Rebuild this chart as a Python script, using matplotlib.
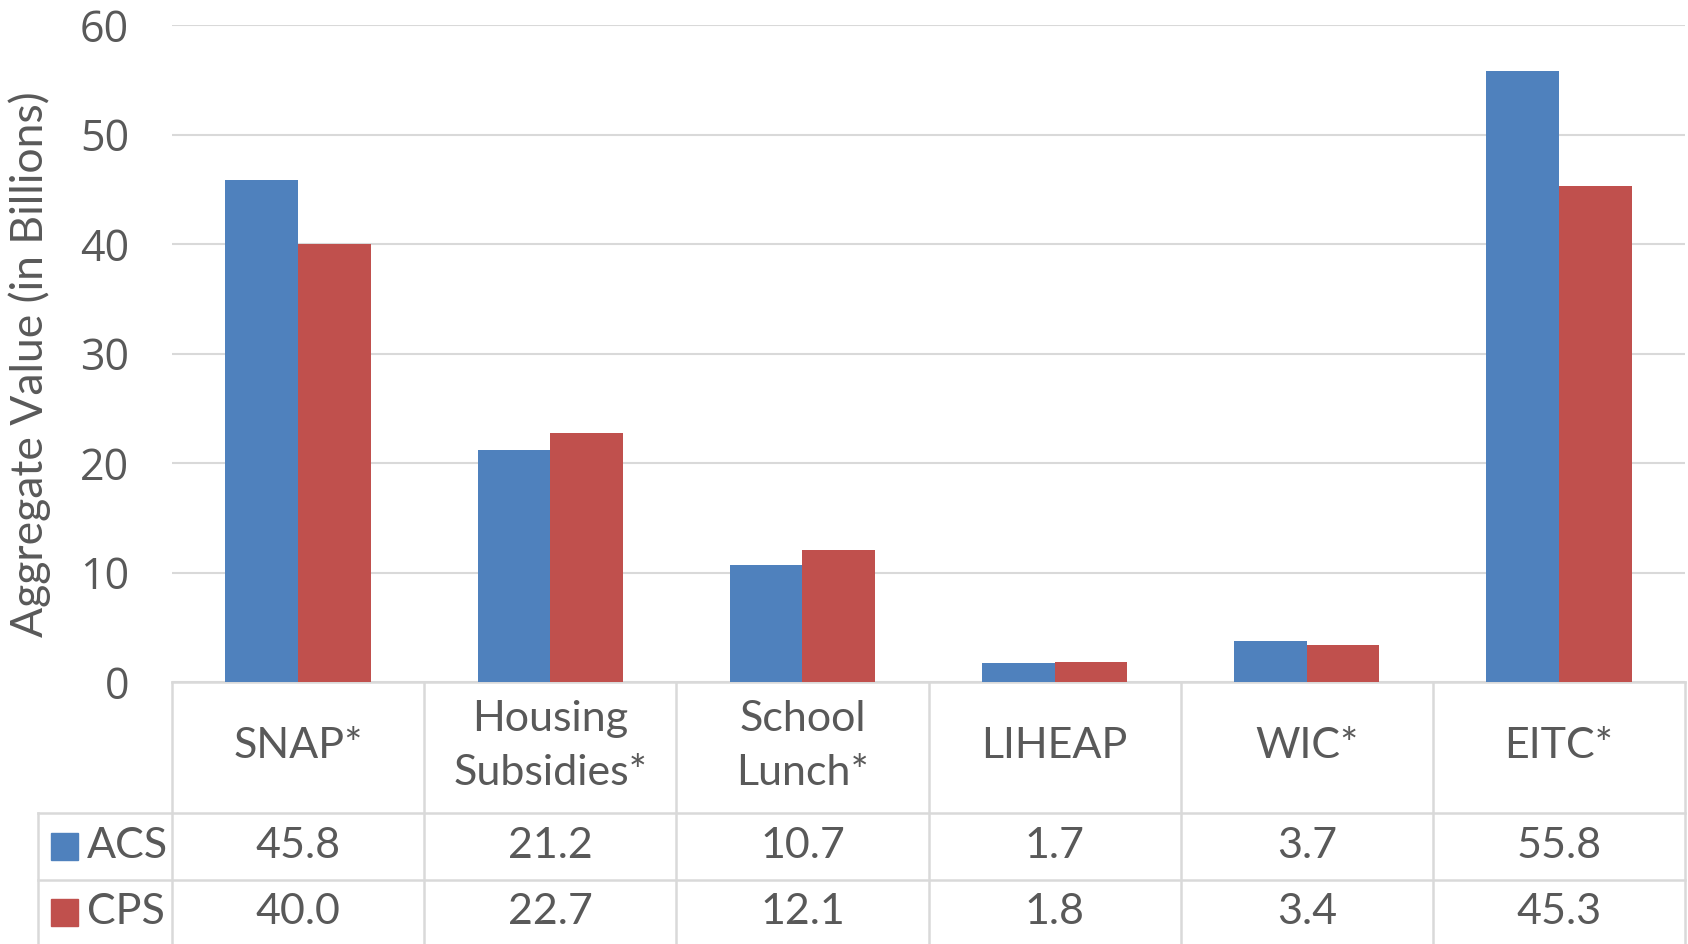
import matplotlib
matplotlib.use("Agg")
import matplotlib.pyplot as plt
import numpy as np
from matplotlib.transforms import blended_transform_factory
from matplotlib.patches import Rectangle

CATEGORIES = ["SNAP*", "Housing\nSubsidies*", "School\nLunch*", "LIHEAP", "WIC*", "EITC*"]
SERIES = ["ACS", "CPS"]
ACS = [45.8, 21.2, 10.7, 1.7, 3.7, 55.8]
CPS = [40.0, 22.7, 12.1, 1.8, 3.4, 45.3]
YTICKS = [0, 10, 20, 30, 40, 50, 60]

BLUE = "#4f81bd"
RED = "#c0504d"
GRID = "#d9d9d9"
TXT = "#595959"
FS = 31

plt.rcParams["font.family"] = ["Lato", "DejaVu Sans"]

W, H = 1688, 944
fig = plt.figure(figsize=(W / 100, H / 100), dpi=100)

# axes box in pixels
left, right, top, bottom = 172, 1685, 25, 682
ax = fig.add_axes([left / W, 1 - bottom / H, (right - left) / W, (bottom - top) / H])

x = np.arange(len(CATEGORIES))
w = 0.288
ax.bar(x - w / 2, ACS, width=w, color=BLUE, zorder=3)
ax.bar(x + w / 2, CPS, width=w, color=RED, zorder=3)

ax.set_xlim(-0.5, len(CATEGORIES) - 0.5)
ax.set_ylim(0, 60)
ax.set_yticks(YTICKS)
ax.set_yticklabels([str(t) for t in YTICKS], fontsize=FS, color=TXT, family=["Open Sans", "DejaVu Sans"])
ax.tick_params(axis="y", length=0, pad=31)
ax.set_xticks([])
ax.grid(axis="y", color=GRID, linewidth=1.5, zorder=0)
for s in ax.spines.values():
    s.set_visible(False)
ax.set_ylabel("Aggregate Value (in Billions)", fontsize=32, color=TXT, va="center")
ax.yaxis.set_label_coords(-0.094, 0.483)

# data table below the plot
tr = blended_transform_factory(ax.transData, fig.transFigure)
def fy(py):
    return 1 - py / H

lw = 1.8
# horizontal lines
ax.plot([-0.5, 5.5], [fy(682)] * 2, transform=tr, color=GRID, lw=lw, clip_on=False)
for py in (813, 880):
    fig.add_artist(plt.Line2D([38 / W, right / W], [fy(py)] * 2, color=GRID, lw=lw))
# vertical lines
for i in range(len(CATEGORIES) + 1):
    ax.plot([i - 0.5] * 2, [fy(682), fy(944)], transform=tr, color=GRID, lw=lw, clip_on=False)
fig.add_artist(plt.Line2D([38 / W] * 2, [fy(813), fy(944)], color=GRID, lw=lw))

for i, cat in enumerate(CATEGORIES):
    ax.text(i, fy(746), cat, transform=tr, ha="center", va="center",
            fontsize=FS, color=TXT, linespacing=1.5)
    ax.text(i, fy(846), f"{ACS[i]:.1f}", transform=tr, ha="center", va="center",
            fontsize=FS, color=TXT)
    ax.text(i, fy(912), f"{CPS[i]:.1f}", transform=tr, ha="center", va="center",
            fontsize=FS, color=TXT)

for py, name, col in [(846, SERIES[0], BLUE), (912, SERIES[1], RED)]:
    fig.add_artist(Rectangle((51 / W, fy(py + 14)), 27 / W, 27 / H, color=col,
                             transform=fig.transFigure))
    fig.text(87 / W, fy(py), name, ha="left", va="center", fontsize=FS, color=TXT)

fig.savefig("out.png", dpi=100)
